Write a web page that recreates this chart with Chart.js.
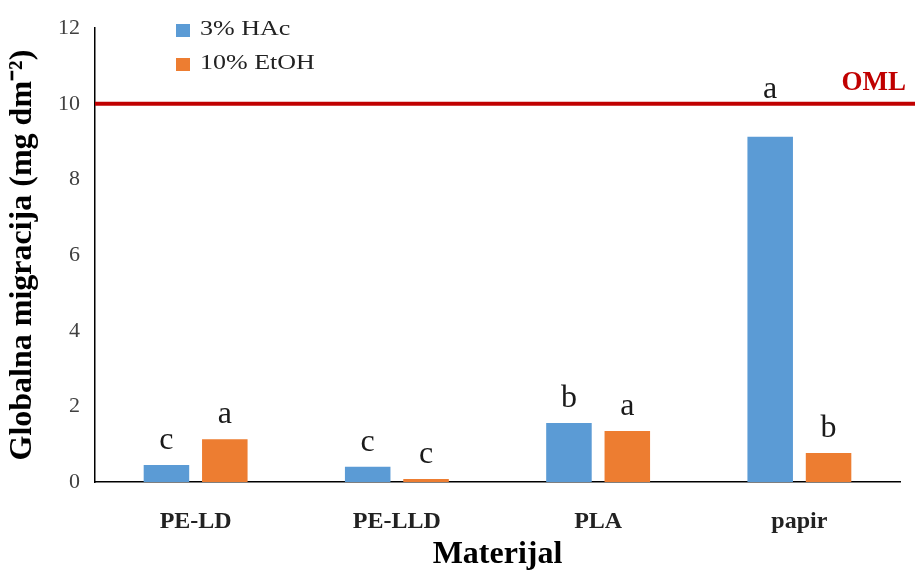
<!DOCTYPE html>
<html lang="sr">
<head>
  <meta charset="UTF-8">
  <title>Globalna migracija</title>
  <script src="https://cdn.jsdelivr.net/npm/chart.js"></script>
  <style>
    body { margin: 0; background: #ffffff; }
    #wrap { width: 915px; height: 571px; }
  </style>
</head>
<body>
  <div id="wrap"><canvas id="chart"></canvas></div>
  <script>
    // data
    const materials = ['PE-LD', 'PE-LLD', 'PLA', 'papir'];
    const hacValues = [0.45, 0.40, 1.56, 9.13];
    const etohValues = [1.13, 0.08, 1.35, 0.77];
    const hacLetters = ['c', 'c', 'b', 'a'];
    const etohLetters = ['a', 'c', 'a', 'b'];
    const omlLimit = 10;
    const yTicks = [0, 2, 4, 6, 8, 10, 12];

    const serif = '"Liberation Serif", "Times New Roman", serif';

    // OML line, letters above bars and the legend
    const extras = {
      id: 'extras',
      afterDatasetsDraw(chart) {
        const ctx = chart.ctx;
        const area = chart.chartArea;
        const y = chart.scales.y;
        const omlY = y.getPixelForValue(omlLimit);

        ctx.save();
        // OML limit line
        ctx.strokeStyle = '#C00000';
        ctx.lineWidth = 4;
        ctx.beginPath();
        ctx.moveTo(area.left, omlY);
        ctx.lineTo(chart.width, omlY);
        ctx.stroke();

        ctx.fillStyle = '#C00000';
        ctx.font = 'bold 27px ' + serif;
        ctx.textAlign = 'right';
        ctx.textBaseline = 'alphabetic';
        ctx.fillText('OML', 906, 90);

        // significance letters (moved above the OML line when the bar is close to it)
        const letters = [hacLetters, etohLetters];
        ctx.fillStyle = '#1a1a1a';
        ctx.font = '32px ' + serif;
        ctx.textAlign = 'center';
        ctx.textBaseline = 'alphabetic';
        chart.data.datasets.forEach((ds, di) => {
          chart.getDatasetMeta(di).data.forEach((bar, i) => {
            const base = bar.y < omlY + 45 ? omlY - 6 : bar.y - 16;
            ctx.fillText(letters[di][i], bar.x, base);
          });
        });

        // legend
        ctx.font = '20px ' + serif;
        ctx.textAlign = 'left';
        ctx.textBaseline = 'middle';
        chart.data.datasets.forEach((ds, di) => {
          const ly = 30 + di * 34;
          ctx.fillStyle = ds.backgroundColor;
          ctx.fillRect(176, ly - 6, 14, 13);
          ctx.fillStyle = '#222';
          ctx.save();
          ctx.translate(200, ly);
          ctx.scale(1.3, 1);
          ctx.fillText(ds.label, 0, 0);
          ctx.restore();
        });
        ctx.restore();
      }
    };

    new Chart(document.getElementById('chart').getContext('2d'), {
      type: 'bar',
      data: {
        labels: materials,
        datasets: [
          { label: '3% HAc', data: hacValues, backgroundColor: '#5B9BD5' },
          { label: '10% EtOH', data: etohValues, backgroundColor: '#ED7D31' }
        ]
      },
      options: {
        responsive: true,
        maintainAspectRatio: false,
        animation: false,
        barPercentage: 0.78,
        categoryPercentage: 0.58,
        layout: { padding: { top: 27, right: 15, bottom: 0, left: 0 } },
        plugins: {
          legend: { display: false },
          tooltip: { enabled: false }
        },
        scales: {
          x: {
            grid: { display: false, drawTicks: false },
            border: { color: '#000', width: 1.5 },
            ticks: { color: '#222', padding: 25, font: { family: serif, size: 24, weight: 'bold' } },
            title: { display: true, text: 'Materijal', color: '#000', padding: { top: 4, bottom: 0 },
                     font: { family: serif, size: 32, weight: 'bold', lineHeight: 1.0 } },
            afterFit(s) { s.height = 89; }
          },
          y: {
            min: 0,
            max: 12,
            afterBuildTicks(s) { s.ticks = yTicks.map(v => ({ value: v })); },
            grid: { display: false, drawTicks: false },
            border: { color: '#000', width: 1.5 },
            ticks: { color: '#404040', padding: 15, font: { family: serif, size: 22 } },
            title: { display: true, text: 'Globalna migracija (mg dm⁻²)', color: '#000',
                     font: { family: serif, size: 32, weight: 'bold' } },
            afterFit(s) { s.width = 95; }
          }
        }
      },
      plugins: [extras]
    });
  </script>
</body>
</html>
